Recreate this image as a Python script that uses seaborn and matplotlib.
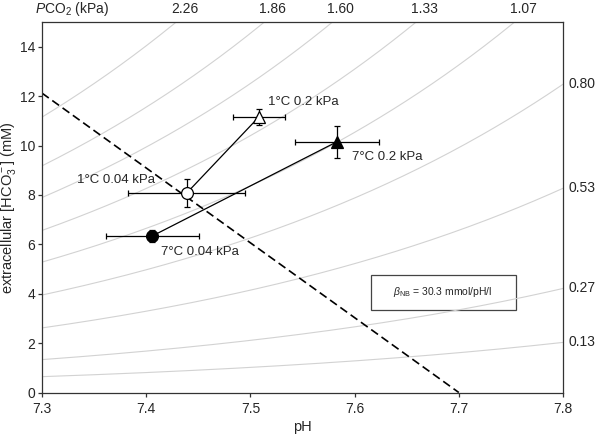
import numpy as np
import pandas as pd
import matplotlib
matplotlib.use("Agg")
import matplotlib.pyplot as plt
import seaborn as sns

pco2_levels = [0.13, 0.27, 0.53, 0.80, 1.07, 1.33, 1.60, 1.86, 2.26]
top_labels = ["1.07", "1.33", "1.60", "1.86", "2.26"]
right_labels = ["0.13", "0.27", "0.53", "0.80"]
hco3_per_kpa_at_78 = 15.6

# non-bicarbonate buffer line
beta_nb = 30.3
buffer_ph = [7.3, 7.7]

# measured points
conditions = ["1°C 0.04 kPa", "7°C 0.04 kPa", "1°C 0.2 kPa", "7°C 0.2 kPa"]
ph = [7.439, 7.406, 7.508, 7.583]
ph_err = [0.056, 0.045, 0.025, 0.040]
hco3 = [8.08, 6.34, 11.15, 10.15]
hco3_err = [0.57, 0.25, 0.33, 0.65]

sns.set_style("ticks")
plt.rcParams["font.family"] = ["Liberation Sans", "DejaVu Sans"]
plt.rcParams["mathtext.fontset"] = "custom"
plt.rcParams["mathtext.rm"] = "Liberation Sans"
plt.rcParams["mathtext.it"] = "Liberation Sans:italic"

fig = plt.figure(figsize=(6, 4.38), dpi=100)
ax = fig.add_axes([42 / 600, 45.5 / 438, 521 / 600, 370.5 / 438])

# isopleths
grid = np.linspace(7.3, 7.8, 200)
iso = pd.DataFrame([
    {"pH": g, "HCO3": hco3_per_kpa_at_78 * p * 10 ** (g - 7.8), "Pco2": p}
    for p in pco2_levels for g in grid
])
sns.lineplot(data=iso, x="pH", y="HCO3", units="Pco2", estimator=None,
             color="#d2d2d2", lw=0.8, ax=ax, legend=False)

# buffer line
buf = pd.DataFrame({"pH": buffer_ph, "HCO3": [beta_nb * (7.7 - x) for x in buffer_ph]})
sns.lineplot(data=buf, x="pH", y="HCO3", color="black", lw=1.2,
             dashes=False, ax=ax, legend=False)
ax.lines[-1].set_dashes((5, 2.6))

pts = pd.DataFrame({"cond": conditions, "pH": ph, "HCO3": hco3,
                    "xerr": ph_err, "yerr": hco3_err})

# connecting lines (0.04 -> 0.2 kPa at each temperature)
for a, b in [(0, 2), (1, 3)]:
    sns.lineplot(data=pts.iloc[[a, b]], x="pH", y="HCO3", color="black",
                 lw=0.9, ax=ax, legend=False, sort=False)

ax.errorbar(pts["pH"], pts["HCO3"], xerr=pts["xerr"], yerr=pts["yerr"],
            fmt="none", ecolor="black", elinewidth=0.9, capsize=2, capthick=0.9, zorder=3)

styles = {
    "1°C 0.04 kPa": ("o", "white", 8.5),
    "7°C 0.04 kPa": ("o", "black", 8.5),
    "1°C 0.2 kPa": ("^", "white", 9),
    "7°C 0.2 kPa": ("^", "black", 9),
}
for _, r in pts.iterrows():
    m, fc, ms = styles[r["cond"]]
    ax.plot(r["pH"], r["HCO3"], marker=m, ms=ms, mfc=fc, mec="black",
            mew=0.9, ls="none", zorder=4)

offsets = {
    "1°C 0.04 kPa": ((-23, 9), "right"),
    "7°C 0.04 kPa": ((6.5, -11.5), "left"),
    "1°C 0.2 kPa": ((7, 11), "left"),
    "7°C 0.2 kPa": ((11, -11), "left"),
}
for _, r in pts.iterrows():
    off, ha = offsets[r["cond"]]
    ax.annotate(r["cond"], (r["pH"], r["HCO3"]), xytext=off,
                textcoords="offset points", ha=ha, va="center", fontsize=9.5)

ax.set_xlim(7.3, 7.8)
ax.set_ylim(0, 15)
ax.set_xticks([7.3, 7.4, 7.5, 7.6, 7.7, 7.8])
ax.set_yticks(range(0, 15, 2))
ax.tick_params(length=3, width=0.9, labelsize=10, color="#333333")
ax.tick_params(axis="x", pad=4)
ax.tick_params(axis="y", pad=2)
for s in ax.spines.values():
    s.set_visible(True)
    s.set_color("#333333")
    s.set_linewidth(0.9)

ax.set_xlabel("pH", fontsize=10.5)
ax.set_ylabel("extracellular [HCO$_3^-$] (mM)", fontsize=10.5)
ax.xaxis.set_label_coords(0.5, -0.075)
ax.yaxis.set_label_coords(-0.047, 0.5)

# PCO2 labels on top and right
for lab in top_labels:
    p = float(lab)
    x_top = 7.8 + np.log10(15 / (hco3_per_kpa_at_78 * p)) + 0.008
    ax.text(x_top, 1.035, lab, transform=ax.get_xaxis_transform(),
            ha="center", va="center", fontsize=10)
ax.text(0.058, 1.035, "$P$CO$_2$ (kPa)", transform=ax.transAxes,
        ha="center", va="center", fontsize=10)
for lab in right_labels:
    ax.text(1.011, hco3_per_kpa_at_78 * float(lab), lab,
            transform=ax.get_yaxis_transform(), ha="left", va="center", fontsize=10)

# buffer value box
ax.add_patch(plt.Rectangle((0.6315, 0.224), 0.278, 0.092, transform=ax.transAxes,
                           fill=False, ec="#444444", lw=0.9))
ax.text(0.77, 0.271, r"$\it{\beta}_{\rm NB}$ = 30.3 mmol/pH/l", transform=ax.transAxes,
        ha="center", va="center", fontsize=7.5)

fig.savefig("out.png", dpi=100)
